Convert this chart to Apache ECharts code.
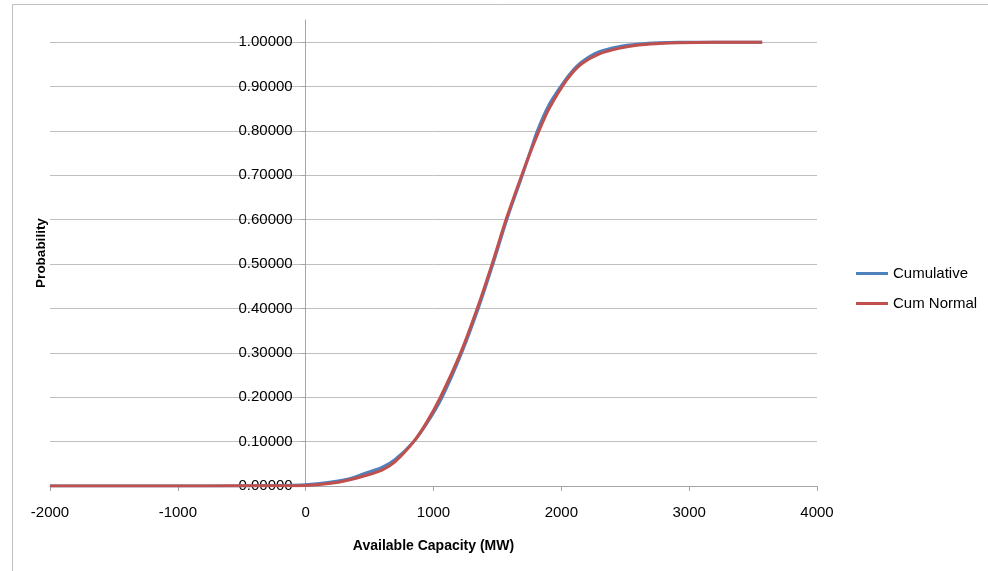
<!DOCTYPE html>
<html>
<head>
<meta charset="utf-8">
<script src="https://cdn.jsdelivr.net/npm/echarts@6/dist/echarts.min.js"></script>
<style>
html,body{margin:0;padding:0;background:#fff;}
#chart{width:988px;height:571px;}
</style>
</head>
<body>
<div id="chart"></div>
<script>
// Cumulative (blue) – [capacity MW, probability]
const cumulativeX = [-2000, -600, -300, 0, 200, 336, 450, 597, 700, 845, 950, 1067, 1220, 1350, 1465, 1573, 1695, 1755, 1812, 1900, 1995, 2080, 2162, 2293, 2449, 2606, 2762, 2919, 3571];
const cumulativeY = [0, 0, 0.001, 0.003, 0.009, 0.016, 0.027, 0.042, 0.06, 0.10, 0.142, 0.20, 0.30, 0.40, 0.50, 0.60, 0.70, 0.752, 0.80, 0.857, 0.90, 0.933, 0.956, 0.978, 0.990, 0.996, 0.999, 1.0, 1.0];
// Cum Normal (red)
const cumNormalX = [-2000, -1000, -500, 0, 200, 336, 450, 597, 700, 845, 950, 1054, 1212, 1342, 1458, 1567, 1690, 1755, 1818, 1900, 2006, 2080, 2162, 2293, 2449, 2606, 2762, 2919, 3200, 3571];
const cumNormalY = [0, 0, 0.0003, 0.0012, 0.006, 0.0135, 0.022, 0.036, 0.055, 0.10, 0.145, 0.20, 0.30, 0.40, 0.50, 0.60, 0.70, 0.75, 0.795, 0.848, 0.90, 0.929, 0.952, 0.973, 0.986, 0.9937, 0.997, 0.999, 1.0, 1.0];

const seriesNames = ['Cumulative', 'Cum Normal'];
const yTicks = [0, 0.1, 0.2, 0.3, 0.4, 0.5, 0.6, 0.7, 0.8, 0.9, 1.0];
const xTicks = [-2000, -1000, 0, 1000, 2000, 3000, 4000];

const zip = (xs, ys) => xs.map((x, i) => [x, ys[i]]);
const FONT = 'Liberation Sans';

const GRID_LEFT = 50, GRID_RIGHT = 171, WIDTH = 988;
// the vertical axis crosses the horizontal one at capacity 0
const plotW = WIDTH - GRID_LEFT - GRID_RIGHT;
const yAxisShift = (0 - xTicks[0]) / (xTicks[xTicks.length - 1] - xTicks[0]) * plotW;

const chart = echarts.init(document.getElementById('chart'), null, {renderer: 'canvas'});
chart.setOption({
  animation: false,
  backgroundColor: '#ffffff',
  textStyle: {fontFamily: FONT},
  graphic: [{
    type: 'rect',
    left: 10, top: 2,
    shape: {width: 1200, height: 800},
    style: {fill: 'none', stroke: '#bfbfbf', lineWidth: 1},
    silent: true, z: -10
  }],
  grid: {left: GRID_LEFT, right: GRID_RIGHT, top: 20, bottom: 85, containLabel: false, outerBoundsMode: 'none'},
  legend: {
    orient: 'vertical',
    left: 851, top: 261,
    itemWidth: 32, itemHeight: 3, itemGap: 15,
    icon: 'rect',
    textStyle: {fontFamily: FONT, fontSize: 15, color: '#000'},
    data: seriesNames
  },
  xAxis: {
    type: 'value',
    min: xTicks[0], max: xTicks[xTicks.length - 1], interval: 1000,
    name: 'Available Capacity (MW)',
    nameLocation: 'middle', nameGap: 53,
    nameTextStyle: {fontFamily: FONT, fontSize: 14, fontWeight: 'bold', color: '#000'},
    axisLine: {show: true, onZero: false, lineStyle: {color: '#a6a6a6', width: 1}},
    axisTick: {show: true, length: 5, lineStyle: {color: '#a6a6a6'}},
    axisLabel: {fontFamily: FONT, fontSize: 15, color: '#000', margin: 19, formatter: v => String(v)},
    splitLine: {show: false}
  },
  yAxis: {
    type: 'value',
    min: 0, max: 1.05, interval: 0.1,
    offset: -yAxisShift,
    name: 'Probability',
    nameLocation: 'middle', nameGap: 257,
    nameTextStyle: {fontFamily: FONT, fontSize: 13.5, fontWeight: 'bold', color: '#000'},
    axisLine: {show: true, onZero: false, lineStyle: {color: '#a6a6a6', width: 1}},
    axisTick: {show: true, length: 5, customValues: yTicks, lineStyle: {color: '#a6a6a6'}},
    axisLabel: {fontFamily: FONT, fontSize: 15, color: '#000', margin: 13, customValues: yTicks,
      formatter: v => v.toFixed(5)},
    splitLine: {show: true, lineStyle: {color: '#bfbfbf', width: 1}}
  },
  series: [
    {
      name: seriesNames[0], type: 'line', data: zip(cumulativeX, cumulativeY),
      showSymbol: false, symbol: 'none', smooth: 0.3,
      lineStyle: {color: '#4f81bd', width: 3}, itemStyle: {color: '#4f81bd'}, z: 3
    },
    {
      name: seriesNames[1], type: 'line', data: zip(cumNormalX, cumNormalY),
      showSymbol: false, symbol: 'none', smooth: 0.3,
      lineStyle: {color: '#c0504d', width: 3}, itemStyle: {color: '#c0504d'}, z: 4
    }
  ]
});
</script>
</body>
</html>
